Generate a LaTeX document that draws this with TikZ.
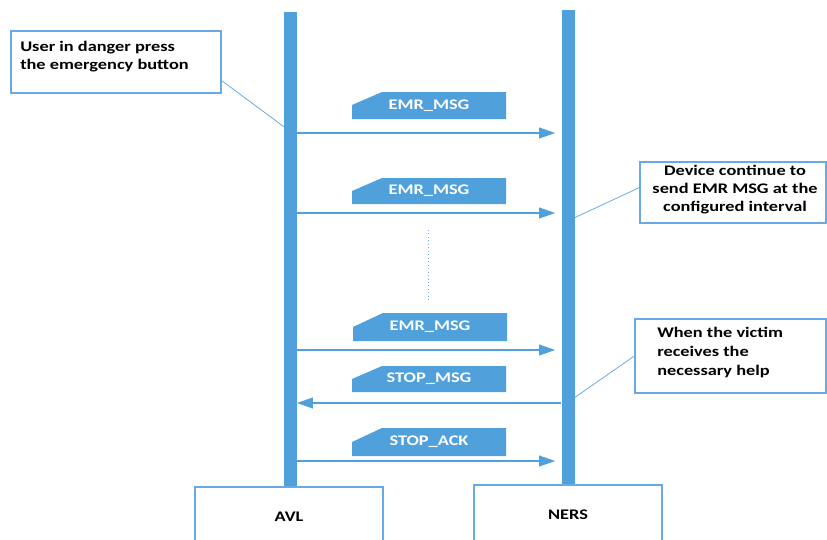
\documentclass[tikz,border=0pt]{standalone}
\usepackage{fontspec}
\setmainfont{Carlito}[FakeStretch=1.25]
\usetikzlibrary{arrows.meta,calc,positioning}
\definecolor{barblue}{RGB}{80,160,220}
\definecolor{lineblue}{RGB}{105,170,228}
\tikzset{
    lifeline/.style={fill=barblue, draw=none, minimum width=9.75pt, inner sep=0pt},
    actorbox/.style={draw=lineblue, line width=1pt, fill=white, minimum width=141pt, minimum height=45pt},
    notebox/.style={draw=lineblue, line width=1pt, inner sep=0pt},
    notetext/.style={inner sep=0pt},
    msgtag/.style={fill=barblue},
    tagtext/.style={text=white, inner sep=0pt},
    msg/.style={draw=barblue, line width=1.1pt, -{Triangle[length=12pt,width=8pt]}},
    callout/.style={draw=lineblue, line width=0.6pt}
}

\begin{document}
\begin{tikzpicture}[x=0.75pt, y=-0.75pt, font=\fontsize{11pt}{13.5pt}\selectfont\bfseries]
    \useasboundingbox (0,0) rectangle (827,539);
    % Notes
    \node[notebox, minimum width=157.5pt, minimum height=46.5pt] (userbox) at (116,62) {};
    \node[notetext, anchor=west, align=left] (usertext) at (20,57) {User in danger press\\the emergency button};
    \node[notebox, minimum width=139.5pt, minimum height=45.75pt] (devbox) at (733,192.5) {};
    \node[notetext, align=center] (devtext) at (735,189.5) {Device continue to\\send EMR MSG at the\\configured interval};
    \node[notebox, minimum width=143.25pt, minimum height=55.5pt] (helpbox) at (730.5,356) {};
    \node[notetext, anchor=west, align=left, font=\fontsize{11pt}{14.6pt}\selectfont\bfseries] (helptext) at (657,352.5) {When the victim\\receives the\\necessary help};
    % Callout lines
    \coordinate (usertip) at (291,132);
    \coordinate (devtip) at (574,218);
    \coordinate (helptip) at (574,398);
    \draw[callout] (userbox.-10) -- (usertip);
    \draw[callout] (devbox.177) -- (devtip);
    \draw[callout] (helpbox.west) -- (helptip);
    % Lifelines
    \node[lifeline, minimum height=356.25pt] (avlbar) at (290,249.5) {};
    \node[lifeline, minimum height=356.25pt] (nersbar) at (568,247.5) {};
    \node[actorbox] (avl) at (289,517) {AVL};
    \node[actorbox] (ners) at (568,515) {NERS};
    % Message tags
    \fill[msgtag] (352,119) -- (352,105) -- (382,92) -- (506,92) -- (506,119) -- cycle;
    \node[tagtext] (emr1) at (429,106) {EMR\_MSG};
    \fill[msgtag] (352,204) -- (352,191) -- (382,178) -- (506,178) -- (506,204) -- cycle;
    \node[tagtext] (emr2) at (429,191) {EMR\_MSG};
    \fill[msgtag] (353,341) -- (353,327) -- (383,313) -- (507,313) -- (507,341) -- cycle;
    \node[tagtext] (emr3) at (430,327) {EMR\_MSG};
    \fill[msgtag] (352,392) -- (352,379) -- (382,366) -- (506,366) -- (506,392) -- cycle;
    \node[tagtext] (stopmsg) at (429,379) {STOP\_MSG};
    \fill[msgtag] (352,456) -- (352,442) -- (382,428) -- (506,428) -- (506,456) -- cycle;
    \node[tagtext] (stopack) at (429,442) {STOP\_ACK};
    % Messages
    \draw[msg, shorten >=4.5pt] (avlbar.east |- 0,133) -- (nersbar.west |- 0,133);
    \draw[msg, shorten >=4.5pt] (avlbar.east |- 0,213) -- (nersbar.west |- 0,213);
    \draw[lineblue, line width=0.6pt, dotted] (428,230) -- (428,300);
    \draw[msg, shorten >=4.5pt] (avlbar.east |- 0,350) -- (nersbar.west |- 0,350);
    \draw[msg] (nersbar.west |- 0,403) -- (avlbar.east |- 0,403);
    \draw[msg, shorten >=4.5pt] (avlbar.east |- 0,461) -- (nersbar.west |- 0,461);
\end{tikzpicture}
\end{document}
